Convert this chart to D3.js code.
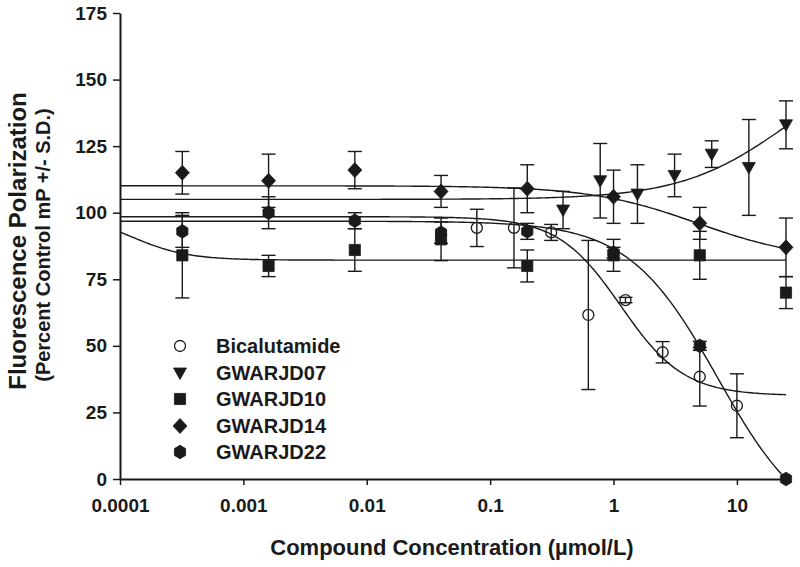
<!DOCTYPE html>
<html>
<head>
<meta charset="utf-8">
<script src="https://cdn.jsdelivr.net/npm/d3@7/dist/d3.min.js"></script>
<style>
  html, body { margin: 0; padding: 0; background: #fff; }
  svg { display: block; }
  text { font-family: Arial, "Liberation Sans", Helvetica, sans-serif; font-weight: bold; fill: #1a1a1a; }
</style>
</head>
<body>
<svg id="chart" width="800" height="567"></svg>
<script>
// ---------------- data ----------------
const xTickValues = [0.0001, 0.001, 0.01, 0.1, 1, 10];
const xTickLabels = ["0.0001", "0.001", "0.01", "0.1", "1", "10"];
const yTickValues = [0, 25, 50, 75, 100, 125, 150, 175];

const seriesNames = ["Bicalutamide", "GWARJD07", "GWARJD10", "GWARJD14", "GWARJD22"];
const seriesSymbols = ["circle", "triangle", "square", "diamond", "hexagon"];

const bicConc = [0.078, 0.156, 0.3125, 0.625, 1.25, 2.5, 5, 10];
const bicMean = [94.3, 94.3, 92.6, 61.6, 67.2, 47.6, 38.4, 27.5];
const bicSD   = [7, 15, 3, 28, 1, 4, 11, 12];

const gw07Conc = [0.39, 0.78, 1.5625, 3.125, 6.25, 12.5, 25];
const gw07Mean = [101, 112, 107, 114, 122, 117, 133];
const gw07SD   = [7, 14, 11, 8, 5, 18, 9];

const gwConc   = [0.00032, 0.0016, 0.008, 0.04, 0.2, 1, 5, 25];
const gw10Mean = [84, 80, 86, 90, 80, 84, 84, 70];
const gw10SD   = [16, 4, 8, 8, 6, 6, 9, 6];
const gw14Mean = [115, 112, 116, 108, 109, 106, 96, 87];
const gw14SD   = [8, 10, 7, 6, 9, 10, 6, 11];
const gw22Mean = [93, 100, 97, 92.5, 93, 85, 50, 0];
const gw22SD   = [6, 6, 3, 4, 3, 2, 1.7, 0];

// fitted sigmoid parameters: [value at low conc, value at high conc, midpoint, Hill slope]
const fitBic  = [98.5, 31.3, 1.15, 1.7];
const fit07   = [105, 161, 26, 1];
const fit10   = [100, 82.2, 0.000122, 1.88];
const fit14   = [110.1, 82, 4.8, 1];
const fit22   = [96.8, -21, 7, 1.2];

const series = [
  { name: seriesNames[0], sym: seriesSymbols[0], conc: bicConc, mean: bicMean, sd: bicSD, fit: fitBic },
  { name: seriesNames[1], sym: seriesSymbols[1], conc: gw07Conc, mean: gw07Mean, sd: gw07SD, fit: fit07 },
  { name: seriesNames[2], sym: seriesSymbols[2], conc: gwConc, mean: gw10Mean, sd: gw10SD, fit: fit10 },
  { name: seriesNames[3], sym: seriesSymbols[3], conc: gwConc, mean: gw14Mean, sd: gw14SD, fit: fit14 },
  { name: seriesNames[4], sym: seriesSymbols[4], conc: gwConc, mean: gw22Mean, sd: gw22SD, fit: fit22 }
];

// ---------------- layout ----------------
const svg = d3.select("#chart");
const ink = "#1a1a1a";
const x = d3.scaleLog().domain([0.0001, 25]).range([120, 786]);
const y = d3.scaleLinear().domain([0, 175]).range([479, 13]);

// symbols
function symbolPath(sym) {
  switch (sym) {
    case "circle": return d3.symbol().type(d3.symbolCircle).size(95)();
    case "square": return d3.symbol().type(d3.symbolSquare).size(125)();
    case "diamond": return "M0,-7.5L7,0L0,7.5L-7,0Z";
    case "triangle": return "M-6.5,-5L6.5,-5L0,6.5Z";
    case "hexagon": {
      const r = 6.8, pts = [];
      for (let i = 0; i < 6; i++) {
        const a = Math.PI / 2 + i * Math.PI / 3;
        pts.push([Math.cos(a) * r * 0.95, Math.sin(a) * r]);
      }
      return "M" + pts.map(p => p.join(",")).join("L") + "Z";
    }
  }
}
function drawSymbol(g, sym, cx, cy) {
  g.append("path")
    .attr("d", symbolPath(sym))
    .attr("transform", `translate(${cx},${cy})`)
    .attr("fill", sym === "circle" ? "none" : ink)
    .attr("stroke", ink)
    .attr("stroke-width", sym === "circle" ? 1.3 : 0.8);
}

// ---------------- axes ----------------
const xAxis = d3.axisBottom(x).tickValues(xTickValues)
  .tickFormat((d, i) => xTickLabels[i]).tickSize(6).tickSizeOuter(0).tickPadding(14);
const yAxis = d3.axisLeft(y).tickValues(yTickValues).tickSize(7).tickSizeOuter(0).tickPadding(6);

const gx = svg.append("g").attr("transform", `translate(0,${y(0)})`).call(xAxis);
const gy = svg.append("g").attr("transform", `translate(${x(0.0001)},0)`).call(yAxis);
[gx, gy].forEach(g => {
  g.select(".domain").attr("stroke", ink).attr("stroke-width", 2);
  g.selectAll(".tick line").attr("stroke", ink).attr("stroke-width", 1.5);
  g.selectAll(".tick text").attr("font-size", 19).attr("font-family", null).attr("fill", ink);
});

// ---------------- fitted curves ----------------
function fitValue(p, c) {
  return p[1] + (p[0] - p[1]) / (1 + Math.pow(c / p[2], p[3]));
}
const curveX = d3.range(0, 301).map(i => Math.pow(10, Math.log10(0.0001) + i / 300 * (Math.log10(25) - Math.log10(0.0001))));
const line = d3.line().x(d => x(d[0])).y(d => y(Math.max(0, d[1])));
const gCurves = svg.append("g");
series.forEach(s => {
  gCurves.append("path")
    .attr("d", line(curveX.map(c => [c, fitValue(s.fit, c)])))
    .attr("fill", "none").attr("stroke", ink).attr("stroke-width", 1.4);
});

// ---------------- error bars and markers ----------------
const gErr = svg.append("g");
const cap = 7;
series.forEach(s => {
  s.conc.forEach((c, i) => {
    const cx = x(c), m = s.mean[i], sd = s.sd[i];
    if (sd <= 0) return;
    const y1 = y(m + sd), y2 = y(m - sd);
    gErr.append("line").attr("x1", cx).attr("x2", cx).attr("y1", y1).attr("y2", y2)
      .attr("stroke", ink).attr("stroke-width", 1.4);
    [y1, y2].forEach(yy => gErr.append("line")
      .attr("x1", cx - cap).attr("x2", cx + cap).attr("y1", yy).attr("y2", yy)
      .attr("stroke", ink).attr("stroke-width", 1.4));
  });
});
const gMarks = svg.append("g");
series.forEach(s => {
  s.conc.forEach((c, i) => drawSymbol(gMarks, s.sym, x(c), y(s.mean[i])));
});

// ---------------- legend ----------------
const legendY = [346, 373, 399, 426, 452];
const gLeg = svg.append("g");
series.forEach((s, i) => {
  drawSymbol(gLeg, s.sym, 180, legendY[i]);
  gLeg.append("text").attr("x", 216).attr("y", legendY[i] + 7)
    .attr("font-size", 20).text(s.name);
});

// ---------------- titles ----------------
svg.append("text").attr("x", 452).attr("y", 555).attr("text-anchor", "middle")
  .attr("font-size", 22).text("Compound Concentration (\u00b5mol/L)");
svg.append("text").attr("transform", "translate(26,241) rotate(-90)").attr("text-anchor", "middle")
  .attr("font-size", 24).text("Fluorescence Polarization");
svg.append("text").attr("transform", "translate(50,245) rotate(-90)").attr("text-anchor", "middle")
  .attr("font-size", 20).text("(Percent Control mP +/- S.D.)");
</script>
</body>
</html>
